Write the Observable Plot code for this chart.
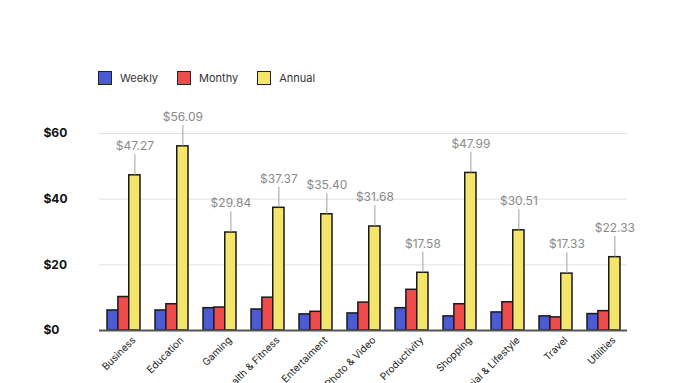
<!DOCTYPE html>
<html>
<head>
<meta charset="utf-8">
<script src="https://cdn.jsdelivr.net/npm/d3@7"></script>
<script src="https://cdn.jsdelivr.net/npm/@observablehq/plot@0.6"></script>
<style>
  html, body { margin: 0; padding: 0; background: #fff; }
  #wrap { position: relative; width: 680px; height: 383px; overflow: hidden; font-family: Inter, "Open Sans", sans-serif; }
  #legend { position: absolute; top: 71px; left: 98px; display: flex; align-items: center; font-size: 11px; color: #333; z-index: 2; }
  .item { display: flex; align-items: center; margin-right: 19px; }
  .sw { width: 14px; height: 14px; border: 1.5px solid #222; margin-right: 8px; box-sizing: border-box; }
</style>
</head>
<body>
<div id="wrap"><div id="legend"></div></div>
<script>
const categories = ["Business", "Education", "Gaming", "Health & Fitness", "Entertaiment", "Photo & Video", "Productivity", "Shopping", "Social & Lifestyle", "Travel", "Utilities"];
const series = ["Weekly", "Monthy", "Annual"];
const colors = ["#4a5ad6", "#ee4b4b", "#f5e66a"];
const weekly = [6.1, 6.1, 6.8, 6.4, 4.9, 5.2, 6.8, 4.3, 5.5, 4.3, 5.0];
const monthly = [10.2, 8.0, 7.0, 10.0, 5.7, 8.5, 12.4, 8.0, 8.6, 4.0, 5.9];
const annual = [47.27, 56.09, 29.84, 37.37, 35.40, 31.68, 17.58, 47.99, 30.51, 17.33, 22.33];
const yTicks = [0, 20, 40, 60];

const valuesBySeries = [weekly, monthly, annual];
const rows = series.map((s, si) => categories.map((c, i) => ({category: c, series: s, value: valuesBySeries[si][i]})));

const legend = document.getElementById("legend");
series.forEach((s, i) => {
  const it = document.createElement("div");
  it.className = "item";
  it.innerHTML = `<span class="sw" style="background:${colors[i]}"></span><span>${s}</span>`;
  legend.appendChild(it);
});

const W = 680, ML = 99, MR = 53;
const pIn = 0.32, pOut = 0.16;
const step = (W - ML - MR) / (categories.length - pIn + 2 * pOut);
const bw = step * (1 - pIn);
const sub = bw / 3;

const barMarks = series.map((s, si) =>
  Plot.barY(rows[si], {x: "category", y: "value", fill: colors[si], stroke: "#1a1a1a", strokeWidth: 1.5,
    insetLeft: si * sub, insetRight: (2 - si) * sub})
);

const chart = Plot.plot({
  width: W,
  height: 383,
  marginTop: 133,
  marginBottom: 53,
  marginLeft: ML,
  marginRight: MR,
  style: {fontFamily: "Inter, 'Open Sans', sans-serif", background: "transparent"},
  x: {domain: categories, paddingInner: pIn, paddingOuter: pOut, label: null},
  y: {domain: [0, 60], axis: null},
  marks: [
    Plot.gridY(yTicks.filter(d => d > 0), {stroke: "#e2e2e2", strokeOpacity: 1, strokeWidth: 1}),
    Plot.text(yTicks, {y: d => d, text: d => "$" + d, frameAnchor: "left", dx: -56, textAnchor: "start", fontWeight: "bold", fontSize: 12, fill: "#111"}),
    ...barMarks,
    Plot.ruleY([0], {stroke: "#555", strokeWidth: 2}),
    Plot.ruleX(rows[2], {x: "category", y1: "value", y2: d => d.value + 6.3, dx: sub, stroke: "#a0a0a0", strokeWidth: 1}),
    Plot.text(rows[2], {x: "category", y: "value", text: d => "$" + d.value.toFixed(2), dx: sub, dy: -29, fill: "#8a8a8a", fontSize: 12}),
    Plot.axisX({tickSize: 0, tickRotate: -45, textAnchor: "end", fontSize: 10, fill: "#222", tickPadding: 8, dx: 10, label: null})
  ]
});
document.getElementById("wrap").appendChild(chart);
chart.style.position = "absolute";
chart.style.left = "0";
chart.style.top = "0";
</script>
</body>
</html>
